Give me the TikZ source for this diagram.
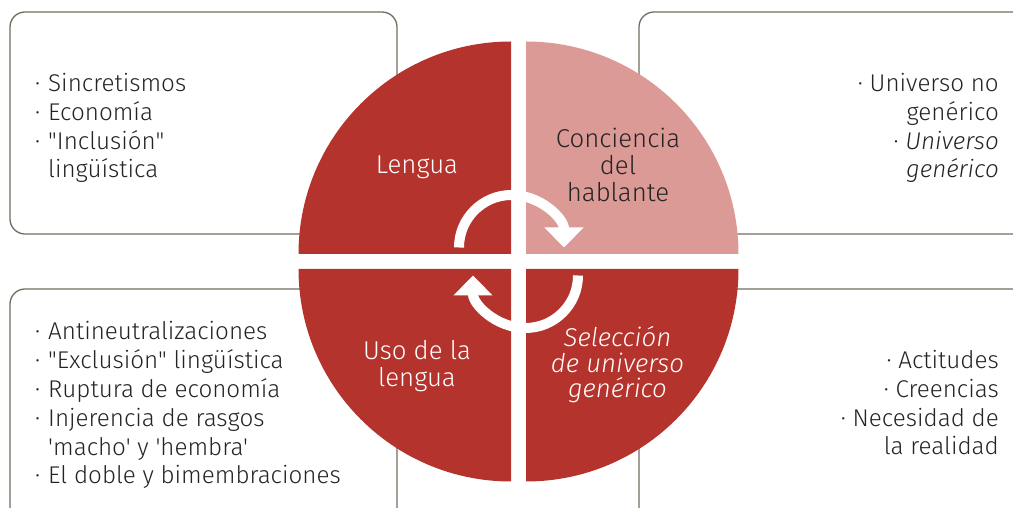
\documentclass[tikz,border=0pt]{standalone}
\usepackage{fontspec}
\newfontfamily\firalight{Fira Sans}[UprightFont={* Light},ItalicFont={* Light Italic}]
\usetikzlibrary{arrows.meta}
\definecolor{rojo}{RGB}{181,51,45}
\definecolor{rosa}{RGB}{219,154,150}
\definecolor{marco}{RGB}{115,108,96}
\definecolor{tinta}{RGB}{36,36,36}
\newcommand\punto{·\hskip 8pt}

\begin{document}
\begin{tikzpicture}[x=1pt, y=1pt,
    caja/.style ={draw=marco, line width=1.3pt, rounded corners=15pt},
    lista/.style ={font=\firalight\fontsize{24.2}{28.8}\selectfont, text=tinta, inner sep=0pt},
    sector/.style ={font=\firalight\fontsize{25.8}{27}\selectfont, text=white, align=center, inner sep=0pt},
    ciclo/.style ={white, line width=10pt, -{Triangle[width=38pt,length=20pt]}}]
   \useasboundingbox (0,0) rectangle (1013,508);
   \clip (0,0) rectangle (1013,508);
   % cajas
   \draw[caja] (10,274) rectangle (397,496);
   \draw[caja] (639,274) rectangle (1040,496);
   \draw[caja] (10,-20) rectangle (397,219);
   \draw[caja] (639,-20) rectangle (1040,219);
   % sectores
   \fill[rojo] (511,254) -- (298.5,254) arc[start angle=180, end angle=90, radius=212.5] -- cycle;
   \fill[rosa] (526,254) -- (526,466.5) arc[start angle=90, end angle=0, radius=212.5] -- cycle;
   \fill[rojo] (511,239) -- (511,26.5) arc[start angle=270, end angle=180, radius=212.5] -- cycle;
   \fill[rojo] (526,239) -- (738.5,239) arc[start angle=0, end angle=-90, radius=212.5] -- cycle;
   % flechas
   \draw[ciclo] (459,260.5) arc[start angle=180, end angle=0, radius=52.5];
   \draw[ciclo] (578,232.5) arc[start angle=0, end angle=-180, radius=52.5];
   % textos (base = ultima linea)
   \node[lista, anchor=base west, align=left] (inclusion) at (35,330)
      {\punto Sincretismos\\ \punto Economía\\ \punto "Inclusión"\\ \phantom{\punto}lingüística};
   \node[lista, anchor=base east, align=right] (universo) at (999,330)
      {· Universo no\\ genérico\\ · \textit{Universo}\\ \textit{genérico}};
   \node[lista, anchor=base west, align=left] (exclusion) at (35,24)
      {\punto Antineutralizaciones\\ \punto "Exclusión" lingüística\\ \punto Ruptura de economía\\
       \punto Injerencia de rasgos\\ \phantom{\punto}'macho' y 'hembra'\\ \punto El doble y bimembraciones};
   \node[lista, anchor=base east, align=right] (actitudes) at (999,53)
      {· Actitudes\\ · Creencias\\ · Necesidad de\\ la realidad};
   \node[sector, anchor=base] (lengua) at (417,334) {Lengua};
   \node[sector, anchor=base, text=tinta] (conciencia) at (618,306.5) {Conciencia\\ del\\ hablante};
   \node[sector, anchor=base] (uso) at (417,121) {Uso de la\\ lengua};
   \node[sector, anchor=base, font=\firalight\itshape\fontsize{25.8}{25.5}\selectfont] (seleccion) at (617.5,110)
      {Selección\\ de universo\\ genérico};
 \end{tikzpicture}
\end{document}
